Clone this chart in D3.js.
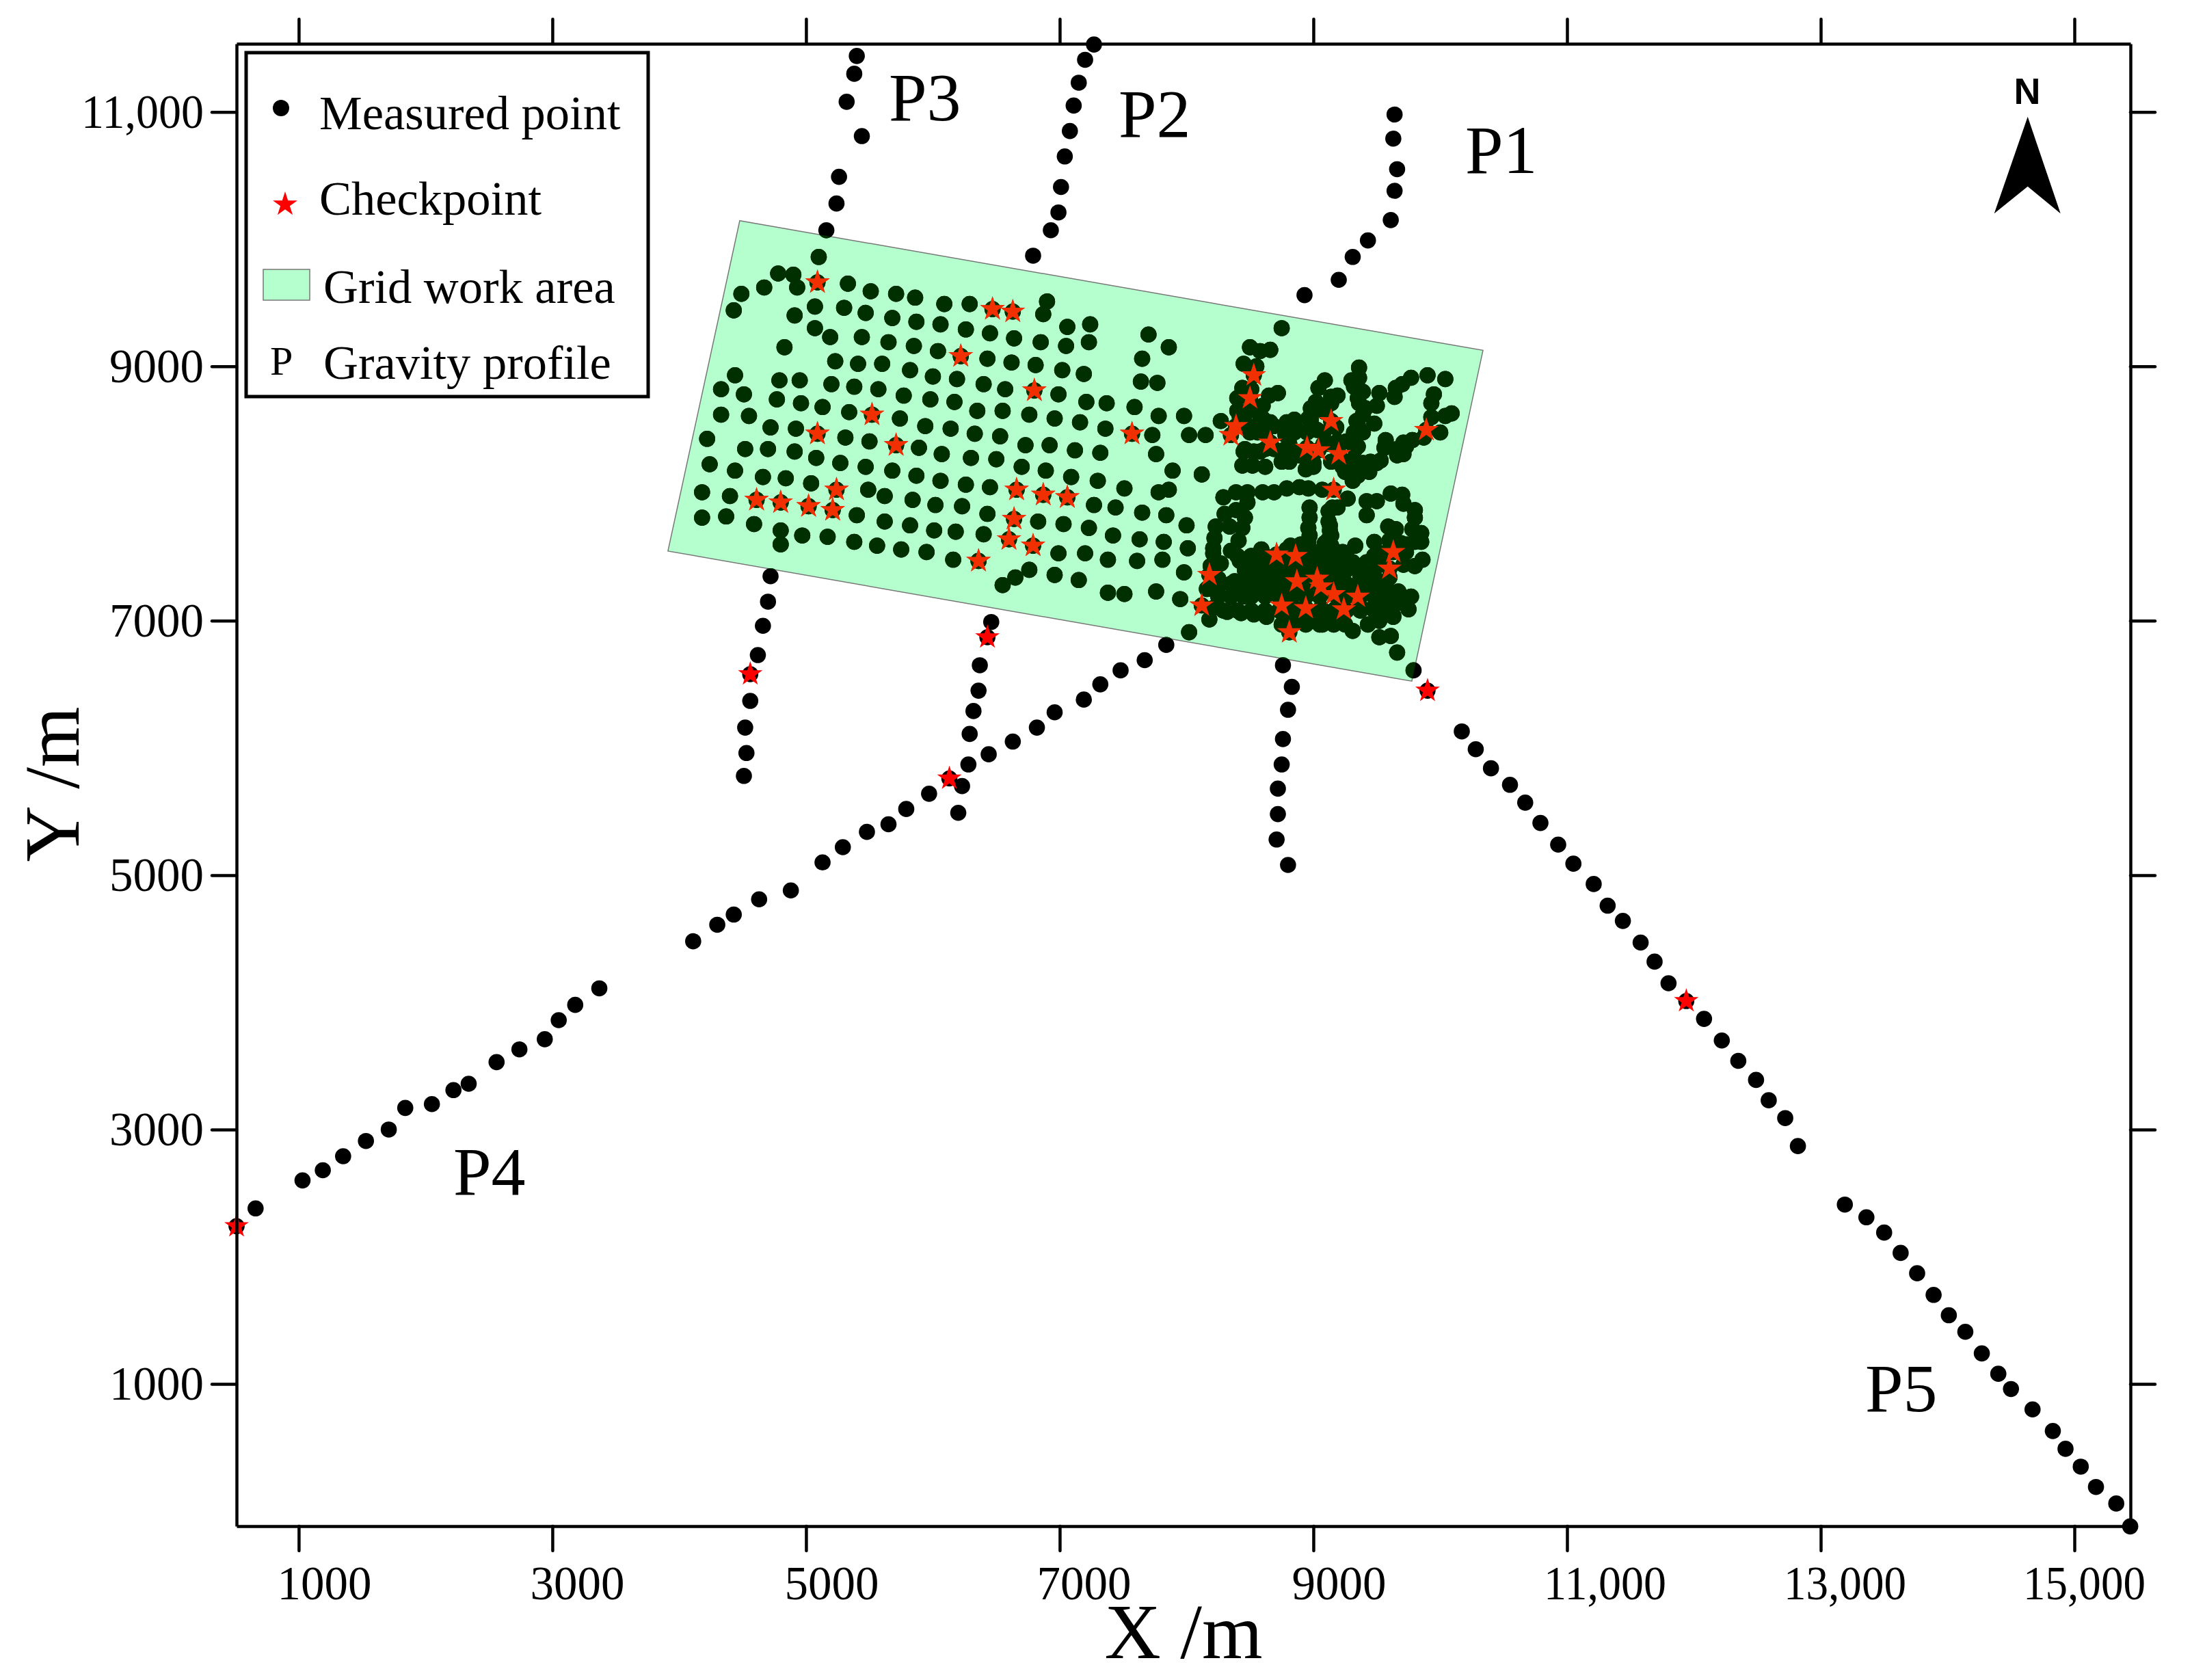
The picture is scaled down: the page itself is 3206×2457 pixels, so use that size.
<!DOCTYPE html>
<html>
<head>
<meta charset="utf-8">
<title>Gravity survey layout</title>
<script src="https://cdn.jsdelivr.net/npm/d3@7"></script>
<style>
  body { margin: 0; background: #fff; }
  text { font-family: "Liberation Serif", serif; fill: #000; }
</style>
</head>
<body>
<div id="chart"></div>
<script>
// all coordinates in metres
var profileP1 = [[9640,10980],[9630,10790],[9660,10550],[9640,10380],[9610,10150],[9430,9990],[9310,9860],[9200,9680],[8930,9560],
  [8760,6650],[8830,6480],[8800,6300],[8760,6070],[8750,5870],[8720,5680],[8720,5480],[8710,5280],[8800,5080]];
var profileP2 = [[7270,11530],[7200,11410],[7150,11230],[7110,11050],[7080,10850],[7040,10650],[7010,10410],[6990,10210],[6930,10070],[6790,9870],
  [6460,6990],[6430,6870],[6370,6650],[6360,6450],[6320,6290],[6290,6110],[6280,5870],[6230,5700],[6200,5490]];
var profileP3 = [[5400,11440],[5380,11300],[5320,11080],[5440,10810],[5260,10490],[5240,10280],[5160,10070],[5100,9860],
  [4720,7350],[4700,7150],[4660,6960],[4620,6730],[4560,6580],[4560,6370],[4520,6160],[4530,5960],[4510,5780]];
var profileP4 = [[510,2240],[660,2380],[1030,2600],[1190,2680],[1350,2790],[1530,2910],[1710,3000],[1840,3170],[2050,3200],[2220,3310],[2340,3360],
  [2560,3530],[2740,3630],[2940,3710],[3050,3860],[3180,3980],[3370,4110],[4110,4480],[4300,4610],[4430,4690],[4630,4810],[4880,4880],
  [5130,5100],[5290,5220],[5480,5340],[5650,5400],[5790,5520],[5970,5640],[6130,5760],[6440,5950],[6630,6050],[6820,6160],[6960,6280],
  [7190,6380],[7320,6500],[7480,6610],[7670,6690],[7840,6810],[8020,6910]];
var profileP5 = [[9790,6610],[9900,6450],[10170,6130],[10280,5990],[10400,5840],[10550,5710],[10670,5570],[10790,5410],[10930,5240],[11050,5090],
  [11210,4930],[11320,4760],[11440,4640],[11580,4470],[11690,4320],[11800,4150],[11940,4010],[12080,3870],[12220,3700],[12350,3540],[12490,3390],
  [12590,3230],[12720,3090],[12820,2870],[13190,2410],[13360,2310],[13500,2190],[13630,2030],[13760,1870],[13890,1700],[14010,1540],[14140,1410],
  [14270,1240],[14400,1080],[14500,960],[14670,800],[14830,630],[14930,490],[15050,350],[15170,190],[15330,60],[15440,-120]];

var gridPoints = [[4430,9440],[4490,9570],[4670,9620],[4780,9730],[4900,9720],[4930,9620],[5090,9660],[5330,9650],[5510,9590],[5710,9570],[5860,9540],
  [6090,9490],[6290,9490],[6470,9450],[6630,9430],[6900,9510],[6870,9410],
  [4910,9400],[5070,9470],[5300,9460],[5470,9420],[5680,9380],[5870,9350],[6060,9330],[6260,9290],[6450,9260],[6640,9220],[6850,9190],[7050,9160],
  [7060,9310],[7240,9330],[7230,9190],
  [5070,9300],[5190,9230],[4830,9150],[5440,9230],[5650,9190],[5850,9160],[6040,9120],[6220,9080],[6430,9060],[6620,9030],[6810,9010],[7020,8970],[7190,8940],
  [5230,9040],[5410,9020],[5600,9020],[5820,8970],[6000,8920],[6190,8900],[6400,8860],[6570,8820],[6800,8810],[6990,8780],[7210,8720],[7370,8710],[7590,8680],
  [4440,8930],[4330,8820],[4510,8780],[4790,8890],[4950,8890],[5200,8860],[5380,8840],[5570,8820],[5770,8770],[5980,8740],[6170,8720],[6350,8650],[6550,8650],
  [6760,8620],[6960,8590],[7160,8560],[7360,8510],
  [4770,8740],[4960,8710],[5130,8680],[5340,8640],[5520,8620],[5740,8590],[5940,8530],[6140,8510],[6330,8470],[6530,8450],[6730,8380],[6920,8380],[7120,8340],[7320,8320],
  [4330,8620],[4550,8610],[4720,8520],[4920,8510],[5090,8470],[5310,8440],[5500,8410],[5710,8380],[5890,8360],[6070,8310],[6300,8280],[6500,8270],[6700,8210],
  [6890,8180],[7090,8130],[7300,8100],[7510,8040],
  [4220,8430],[4520,8350],[4700,8350],[4910,8330],[5080,8280],[5270,8240],[5470,8210],[5680,8180],[5870,8140],[6060,8100],[6260,8070],[6450,8050],[6660,8030],
  [6870,7990],[7060,7970],[7270,7910],[7440,7890],[7650,7850],[7840,7830],[8000,7750],
  [4240,8230],[4440,8180],[4660,8130],[4840,8120],[5040,8080],[5240,8030],[5490,8030],[5620,7980],[5840,7950],[6020,7910],[6230,7900],[6430,7840],[6640,7800],
  [6830,7780],[7030,7760],[7230,7730],[7420,7670],[7630,7640],[7820,7620],[8010,7570],
  [4180,8010],[4400,7980],[4610,7950],[4800,7930],[5020,7900],[5210,7870],[5400,7830],[5620,7780],[5820,7750],[6010,7710],[6180,7700],[6400,7680],[6600,7640],
  [6790,7590],[6990,7530],[7200,7530],[7380,7480],[7610,7470],[7810,7480],[7980,7380],
  [4180,7810],[4370,7820],[4590,7760],[4800,7710],[4800,7600],[4970,7670],[5170,7660],[5380,7620],[5560,7590],[5750,7560],[5950,7540],[6160,7480],[6360,7470],
  [6760,7400],[6650,7340],[6550,7280],[6960,7360],[7150,7320],[7380,7220],[7510,7210],[7760,7230],[7950,7170],
  [7700,9250],[7860,9150],[7650,9060],[7640,8880],[7770,8870],[7780,8610],[7980,8610],[7730,8460],[8020,8460],[8150,8460],[7760,8310],[7890,8180],[8120,8150],
  [7780,8010],[7860,8030],[7570,8470],[8270,8570]];

// dense part at the east end of the grid
var northCluster = [[8750,9300],[8500,9150],[8580,9120],[8660,9130],[8450,9020],[8550,9000],[8530,8930],[8440,8830],[8510,8820],[8400,8750],[8500,8750],
  [8650,8770],[8720,8790],[8600,8690],[8400,8650],[8480,8650],[8560,8640],[8390,8530],[8350,8460],[8460,8560],[8580,8560],[8660,8560],[8790,8560],[8850,8580],
  [8500,8480],[8620,8480],[8780,8480],[8850,8480],[8660,8400],[8450,8330],[8580,8330],[8690,8350],[8810,8390],[8440,8220],[8520,8220],[8620,8210],[8750,8250],
  [8810,8250],[8940,8190],[9000,8210],[8930,8290],
  [8460,8350],[8530,8330],[8620,8350],[8560,8480],[8470,8530],[8420,8600],[8600,8590],[8690,8530],[8780,8460],[8780,8350],[8800,8260],[8850,8330],[8870,8500],
  [9090,8890],[9040,8830],[9190,8770],[9020,8720],[9140,8710],[9000,8660],[8980,8580],[9140,8570],[9180,8520],[8950,8480],[9080,8480],[8950,8360],[9040,8340],
  [9200,8310],[9080,8390],[9140,8250],[9230,8210],[9310,8100],[9440,8170],[9310,8190],[9360,8990],[9360,8910],[9300,8890],[9370,8810],[9520,8790],[9360,8710],
  [9500,8690],[9390,8620],[9480,8550],[9350,8540],[9330,8440],[9390,8480],[9330,8350],[9450,8250],[9530,8260],[9560,8360],[9570,8420],
  [8980,8670],[8960,8590],[9140,8760],[9090,8640],[9030,8500],[9190,8410],[9120,8390],[9000,8240],[8890,8300],
  [9320,8840],[9350,8750],[9390,8800],[9410,8670],[9340,8570],[9320,8480],[9260,8410],[9350,8370],[9300,8260],[9250,8170],[9390,8240],[9350,8140],[9500,8240],
  [9650,8830],[9640,8760],[9700,8860],[9770,8910],[9900,8930],[10040,8900],[9950,8780],[9930,8710],[9930,8600],[10040,8610],[10090,8630],[10000,8480],[9890,8500],
  [9780,8420],[9710,8400],[9660,8300],[9710,8310],[9870,8440],[9730,8370],[9660,8350]];
var southCluster = [[8290,7970],[8390,8010],[8480,8010],[8600,8010],[8690,8010],[8790,8040],[8890,8050],[8960,8040],[9070,8030],[9160,8030],[9270,7960],
  [9420,7830],[9420,7940],[9500,7940],[9610,8000],[9700,7990],[9710,7920],[9800,7870],[9800,7810],[9780,7720],[9850,7690],[9850,7620],[9860,7480],[9800,7430],[9710,7440],
  [9590,7740],[9650,7720],[9480,7620],[9630,7540],[9600,7410],[9600,7340],[9740,7600],[9730,7540],[9600,7630],[9690,7610],[9800,7620],[9550,7530],
  [8480,7930],[8390,7870],[8300,7840],[8460,7810],[8340,7740],[8230,7740],[8440,7730],[8220,7650],[8410,7630],[8210,7570],[8350,7550],[8210,7530],[8220,7360],[8260,7280],
  [8970,7890],[8970,7810],[8960,7730],[8970,7670],[9120,7860],[9190,7890],[9130,7750],[9140,7670],[8960,7620],[9140,7590],[9230,7540],[9330,7590],
  [9150,7890],[9120,7780],[9130,7710],[9120,7640],[8820,7590],[8900,7600],[9090,7610],
  [8590,7560],[8790,7560],[8710,7520],[8860,7510],[9040,7540],[9140,7520],
  [8400,7510],[8510,7510],[8620,7510],[8730,7510],[8830,7510],[8940,7510],[9050,7510],[9160,7510],[9260,7510],[9480,7510],
  [8420,7470],[8510,7470],[8600,7450],[8730,7450],[8850,7450],[8960,7460],[9080,7450],[9200,7470],[9310,7460],[9420,7460],[9520,7450],
  [8460,7400],[8540,7400],[8620,7400],[8730,7400],[8830,7400],[8940,7400],[9050,7400],[9160,7400],[9260,7400],[9370,7400],[9480,7400],
  [8190,7430],[8270,7450],[8180,7360],[8250,7330],[8380,7310],[8460,7310],[8580,7330],[8690,7330],[8810,7330],[8870,7310],[8940,7330],[9030,7330],[9140,7350],[9230,7340],[9370,7350],[9480,7350],
  [8350,7290],[8450,7290],[8510,7290],[8620,7290],[8730,7290],[8830,7290],[8940,7290],[9050,7290],[9160,7290],[9260,7290],[9370,7290],[9480,7290],[9570,7290],
  [8160,7250],[8240,7220],[8390,7230],[8500,7230],[8590,7220],[8710,7230],[8830,7220],[8940,7230],[9060,7270],[9160,7210],[9270,7230],[9350,7190],[9460,7230],[9540,7220],[9670,7230],[9770,7190],
  [8250,7190],[8350,7190],[8450,7190],[8510,7190],[8620,7190],[8730,7190],[8830,7190],[8940,7190],[9050,7190],[9260,7190],[9370,7190],[9480,7190],[9590,7190],
  [8120,7120],[8210,7100],[8320,7070],[8430,7060],[8530,7050],[8630,7030],[8750,7120],[8850,7100],[8940,7100],[9060,7100],[9180,7100],[9240,7090],[9370,7110],[9480,7110],[9560,7130],[9660,7140],[9750,7090],
  [8290,7080],[8400,7080],[8510,7080],[8620,7080],[8730,7080],[8830,7080],[8940,7080],[9050,7080],[9160,7080],[9260,7080],[9370,7080],[9480,7080],[9590,7080],[9520,7040],[9630,7040],
  [8180,7010],[8770,7000],[8870,6990],[8960,6990],[9070,6970],[9140,7000],[9230,7010],[9430,6970],[9520,7000],[9630,7030],
  [8750,6970],[8830,6970],[8940,6970],[9050,6970],[9160,6970],[9250,6970],
  [8810,6910],[9310,6920],[9520,6870],[9610,6880],[9660,6750]];

var checkpoints = [[510,2240],[6130,5760],[6430,6870],[4560,6580],[9900,6450],[11940,4010],
  [5090,9660],[6470,9450],[6630,9430],[6220,9080],[6800,8810],[5520,8620],[5090,8470],[5710,8380],[6660,8030],[6870,7990],[7060,7970],[5240,8030],[6640,7800],
  [4610,7950],[4800,7930],[5020,7900],[5210,7870],[6600,7640],[6790,7590],[6360,7470],[7570,8470],
  [8530,8930],[8500,8750],[8390,8530],[8350,8460],[8660,8400],[8950,8360],[9040,8340],[9200,8310],[9140,8570],[9890,8500],[9160,8030],[8710,7520],[8860,7510],
  [8180,7360],[8870,7310],[9030,7330],[9060,7270],[9160,7210],[9350,7190],[9240,7090],[8750,7120],[8940,7100],[8120,7120],[8810,6910],[9630,7540],[9600,7410]];

var gridArea = [[4477,10145],[10337,9126],[9776,6525],[3911,7548]];

var xTicks = [1000,3000,5000,7000,9000,11000,13000,15000];
var yTicks = [1000,3000,5000,7000,9000,11000];
var xLabelShift = [37,36,37,35,37,55,35,14];   // the labels sit right of their ticks in the original

var measured = [].concat(profileP1, profileP2, profileP3, profileP4, profileP5, gridPoints, northCluster, southCluster);

var width = 3206, height = 2457;
var left = 346, right = 3116, top_ = 64, bottom = 2232;
var dotRadius = 11.8, starSize = 400;

var svg = d3.select("#chart").append("svg")
  .attr("width", width).attr("height", height)
  .style("display", "block");

var x = d3.scaleLinear().domain([510, 15442]).range([left, right]);
var y = d3.scaleLinear().domain([-118, 11536]).range([bottom, top_]);

function fmt(d) { return d >= 10000 ? d3.format(",")(d) : String(d); }
var star = d3.symbol().type(d3.symbolStar).size(starSize);
var areaPath = "M" + gridArea.map(function(d) { return x(d[0]) + "," + y(d[1]); }).join("L") + "Z";

svg.append("defs").append("clipPath").attr("id", "inArea")
  .append("path").attr("d", areaPath);

svg.append("path").attr("d", areaPath)
  .attr("fill", "#b5ffce").attr("stroke", "#777").attr("stroke-width", 1.5);

// marks are drawn twice: plain, then tinted where the green area covers them
function drawMarks(g, dotColor, starColor) {
  g.selectAll("circle").data(measured).join("circle")
    .attr("cx", function(d) { return x(d[0]); })
    .attr("cy", function(d) { return y(d[1]); })
    .attr("r", dotRadius)
    .attr("fill", dotColor);
  g.selectAll("path").data(checkpoints).join("path")
    .attr("d", star)
    .attr("transform", function(d) { return "translate(" + x(d[0]) + "," + y(d[1]) + ")"; })
    .attr("fill", starColor);
}
drawMarks(svg.append("g"), "#000", "#ff0000");
drawMarks(svg.append("g").attr("clip-path", "url(#inArea)"), "#003000", "#f03000");

// frame and ticks on all four sides
var tickLen = 36;
function styleAxis(g, w) {
  g.selectAll("path").attr("stroke", "#000").attr("stroke-width", w);
  g.selectAll("line").attr("stroke", "#000").attr("stroke-width", w).attr("stroke-linecap", "round");
  g.selectAll("text").style("font-family", "Liberation Serif").style("font-size", "69px").attr("fill", "#000");
  // comma labels are narrower in the original
  g.selectAll("text").filter(function(d) { return d >= 10000; })
    .attr("textLength", 179).attr("lengthAdjust", "spacingAndGlyphs");
}
var xBottom = svg.append("g").attr("transform", "translate(0," + bottom + ")")
  .call(d3.axisBottom(x).tickValues(xTicks).tickFormat(fmt).tickSize(tickLen).tickSizeOuter(0));
styleAxis(xBottom, 4.5);
xBottom.selectAll("text").attr("dy", null).attr("y", 107)
  .attr("dx", function(d, i) { return xLabelShift[i]; });

var xTop = svg.append("g").attr("transform", "translate(0," + top_ + ")")
  .call(d3.axisTop(x).tickValues(xTicks).tickFormat("").tickSize(tickLen).tickSizeOuter(0));
styleAxis(xTop, 4.5);

var yLeft = svg.append("g").attr("transform", "translate(" + left + ",0)")
  .call(d3.axisLeft(y).tickValues(yTicks).tickFormat(fmt).tickSize(tickLen).tickSizeOuter(0));
styleAxis(yLeft, 4.5);
yLeft.selectAll("text").attr("x", -48).attr("dy", "0.33em");

var yRight = svg.append("g").attr("transform", "translate(" + right + ",0)")
  .call(d3.axisRight(y).tickValues(yTicks).tickFormat("").tickSize(tickLen).tickSizeOuter(0));
styleAxis(yRight, 4.5);

// axis titles
svg.append("text").attr("x", 1731).attr("y", 2425).attr("text-anchor", "middle")
  .style("font-size", "114px").text("X /m");
svg.append("text").attr("transform", "translate(115,1147) rotate(-90)").attr("text-anchor", "middle")
  .style("font-size", "114px").text("Y /m");

// profile names
var profileLabels = [["P1", 2143, 253], ["P2", 1636, 200], ["P3", 1300, 176], ["P4", 663, 1747], ["P5", 2728, 2064]];
svg.selectAll("text.profile").data(profileLabels).join("text")
  .attr("class", "profile")
  .attr("x", function(d) { return d[1]; })
  .attr("y", function(d) { return d[2]; })
  .style("font-size", "100px")
  .text(function(d) { return d[0]; });

// legend
var legend = svg.append("g");
legend.append("rect").attr("x", 360).attr("y", 77).attr("width", 588).attr("height", 503)
  .attr("fill", "#fff").attr("stroke", "#000").attr("stroke-width", 5);
legend.append("circle").attr("cx", 411).attr("cy", 158).attr("r", 12).attr("fill", "#000");
legend.append("path").attr("d", star).attr("transform", "translate(417,299)").attr("fill", "#ff0000");
legend.append("rect").attr("x", 385).attr("y", 394).attr("width", 68).attr("height", 45)
  .attr("fill", "#b5ffce").attr("stroke", "#777").attr("stroke-width", 1.5);
legend.append("text").attr("x", 395).attr("y", 548).style("font-size", "60px").text("P");
var legendRows = [["Measured point", 467, 189], ["Checkpoint", 467, 314], ["Grid work area", 473, 443], ["Gravity profile", 473, 554]];
legend.selectAll("text.row").data(legendRows).join("text")
  .attr("class", "row")
  .attr("x", function(d) { return d[1]; })
  .attr("y", function(d) { return d[2]; })
  .style("font-size", "70.5px")
  .text(function(d) { return d[0]; });

// north arrow
svg.append("text").attr("x", 2965).attr("y", 152).attr("text-anchor", "middle")
  .style("font-family", "Liberation Sans").style("font-weight", "bold").style("font-size", "54px").text("N");
svg.append("path").attr("d", "M2965.7,170.7L3013.7,312.3L2965.7,272.7L2916.7,312.3Z").attr("fill", "#000");
</script>
</body>
</html>
